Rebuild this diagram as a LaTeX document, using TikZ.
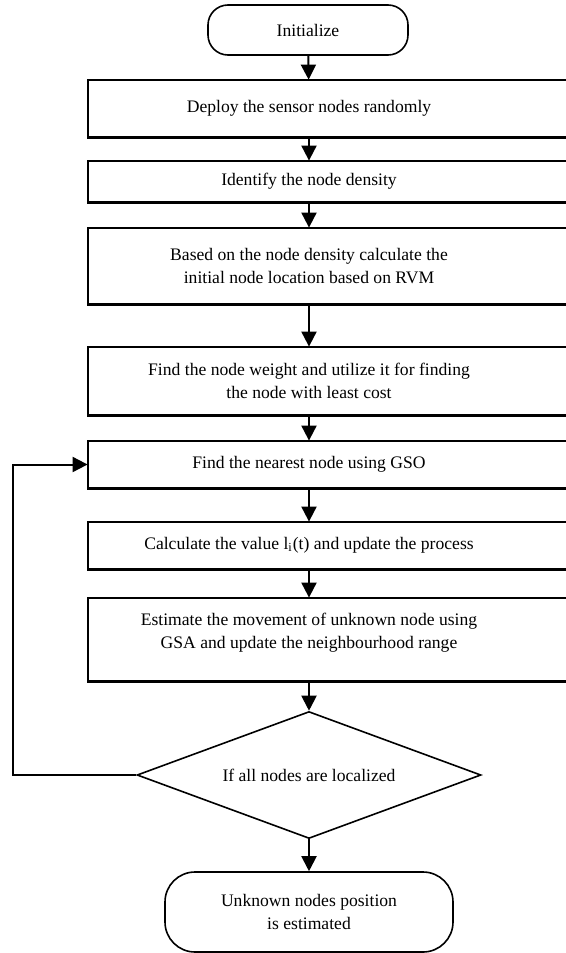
\documentclass[tikz,border=0pt]{standalone}
\usepackage{fontspec}
\setmainfont{Liberation Serif}
\usetikzlibrary{arrows.meta,shapes.geometric}
\tikzset{
  stepbox/.style={minimum width=221pt, inner sep=0pt, align=center,
    font=\fontsize{8.8}{11.5}\selectfont},
  frame/.style={draw, line width=1.1pt},
  terminal/.style={draw, line width=0.8pt, rounded corners=10pt, align=center,
    font=\fontsize{8.8}{11.5}\selectfont},
  decision/.style={draw, diamond, shape aspect=2.7, line width=0.8pt, inner sep=0pt,
    minimum width=172pt, minimum height=63.5pt,
    font=\fontsize{8.8}{11.5}\selectfont},
  flow/.style={line width=1pt, -{Triangle[length=7.5pt,width=7.5pt]}}
}
\begin{document}
\begin{tikzpicture}[x=0.5pt,y=-0.5pt]
  \useasboundingbox (0,0) rectangle (566,953);
  \node[terminal, minimum width=100pt, minimum height=25pt] (init) at (308,30) {Initialize};
  \node[stepbox, minimum height=28.5pt] (deploy) at (309,108.5) {Deploy the sensor nodes randomly};
  \node[stepbox, minimum height=20.5pt] (density) at (309,181.5) {Identify the node density};
  \node[stepbox, minimum height=38pt] (initloc) at (309,266)
    {Based on the node density calculate the\\initial node location based on RVM};
  \node[stepbox, minimum height=34pt] (weight) at (309,381)
    {Find the node weight and utilize it for finding\\the node with least cost};
  \node[stepbox, minimum height=23.5pt] (nearest) at (309,464.5) {Find the nearest node using GSO};
  \node[stepbox, minimum height=23.5pt] (value) at (309,545.5)
    {Calculate the value l\textsubscript{i}(t) and update the process};
  \node[stepbox, minimum height=41.5pt] (movement) at (309,639.5)
    {Estimate the movement of unknown node using\\GSA and update the neighbourhood range\\[-2.5pt]\mbox{}};
  \node[decision] (check) at (309,775) {If all nodes are localized};
  \node[terminal, minimum width=144pt, minimum height=40pt, rounded corners=15pt] (done) at (309,912)
    {Unknown nodes position\\is estimated};
  \coordinate (loopx) at (13,0);

  % boxes run past the right edge
  \foreach \n in {deploy,density,initloc,weight,nearest,value,movement}
    \draw[frame] (\n.south west) rectangle ([xshift=30pt]\n.north east);

  \draw[flow] (init) -- (deploy);
  \draw[flow] (deploy) -- (density);
  \draw[flow] (density) -- (initloc);
  \draw[flow] (initloc) -- (weight);
  \draw[flow] (weight) -- (nearest);
  \draw[flow] (nearest) -- (value);
  \draw[flow] (value) -- (movement);
  \draw[flow] (movement) -- (check);
  \draw[flow] (check) -- (done);
  \draw[flow] (check.west) -- (check.west -| loopx) |- (nearest.west);
\end{tikzpicture}
\end{document}
